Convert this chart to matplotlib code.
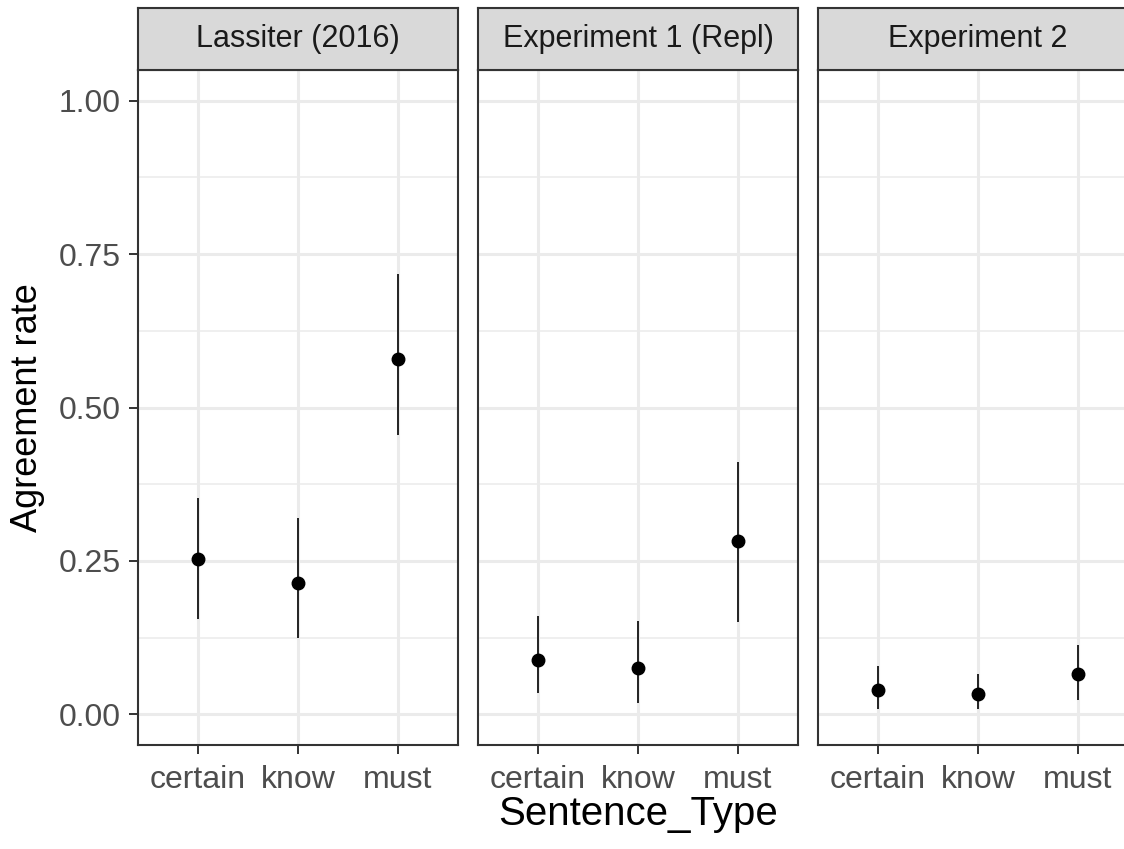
import numpy as np
import matplotlib
matplotlib.use("Agg")
import matplotlib.pyplot as plt
from matplotlib.patches import Rectangle

plt.rcParams['font.family'] = ['Liberation Sans', 'DejaVu Sans']

# DATA
panels = ["Lassiter (2016)", "Experiment 1 (Repl)", "Experiment 2"]
sentence_types = ["certain", "know", "must"]

mean_rate = [
    [0.253, 0.214, 0.579],
    [0.089, 0.076, 0.282],
    [0.040, 0.033, 0.065],
]
ci_low = [
    [0.155, 0.125, 0.456],
    [0.035, 0.018, 0.151],
    [0.008, 0.008, 0.024],
]
ci_high = [
    [0.352, 0.320, 0.718],
    [0.160, 0.152, 0.411],
    [0.079, 0.066, 0.113],
]

y_ticks = [0.0, 0.25, 0.5, 0.75, 1.0]
y_ticklabels = ["0.00", "0.25", "0.50", "0.75", "1.00"]

W, H = 1124, 849
fig = plt.figure(figsize=(W / 100, H / 100), dpi=100)

border = "#333333"
grid_col = "#EBEBEB"

panel_w = 320
gap = 20
left0 = 138
bottom_px = 745
top_px = 70
strip_h = 62

for i, name in enumerate(panels):
    lx = left0 + i * (panel_w + gap)
    ax = fig.add_axes([lx / W, 1 - bottom_px / H, panel_w / W, (bottom_px - top_px) / H])
    x = np.arange(len(sentence_types))
    ax.vlines(x, ci_low[i], ci_high[i], color="#222222", lw=1.4, zorder=3)
    ax.plot(x, mean_rate[i], "o", color="black", ms=9, zorder=4)

    ax.set_xlim(-0.6, 2.6)
    ax.set_ylim(-0.05, 1.05)
    ax.set_xticks(x)
    ax.set_xticklabels(sentence_types, fontsize=23, color="#4D4D4D")
    ax.set_yticks(y_ticks)
    ax.set_yticks([0.125, 0.375, 0.625, 0.875], minor=True)

    ax.grid(True, which="major", color=grid_col, lw=2.2)
    ax.grid(True, which="minor", axis="y", color=grid_col, lw=1.1)
    ax.set_axisbelow(True)
    ax.tick_params(axis="both", which="major", color=border, length=6.5, width=1.4)
    ax.tick_params(axis="x", pad=8)
    ax.tick_params(axis="y", which="minor", length=0)

    if i == 0:
        ax.set_yticklabels(y_ticklabels, fontsize=23, color="#4D4D4D")
        ax.tick_params(axis="y", pad=6)
        ax.set_ylabel("Agreement rate", fontsize=26, labelpad=10)
    else:
        ax.set_yticklabels([])
        ax.tick_params(axis="y", which="major", length=0)
    if i == 1:
        ax.set_xlabel("Sentence_Type", fontsize=29, labelpad=0)

    for s in ax.spines.values():
        s.set_color(border)
        s.set_linewidth(1.5)

    # facet strip
    sax = fig.add_axes([lx / W, 1 - top_px / H, panel_w / W, strip_h / H])
    sax.set_xlim(0, 1)
    sax.set_ylim(0, 1)
    sax.add_patch(Rectangle((0, 0), 1, 1, facecolor="#D9D9D9", edgecolor="none"))
    sax.text(0.5, 0.5, name, ha="center", va="center", fontsize=22, color="#1A1A1A")
    sax.set_xticks([])
    sax.set_yticks([])
    for s in sax.spines.values():
        s.set_color(border)
        s.set_linewidth(1.5)

fig.savefig("out.png", dpi=100, facecolor="white")
